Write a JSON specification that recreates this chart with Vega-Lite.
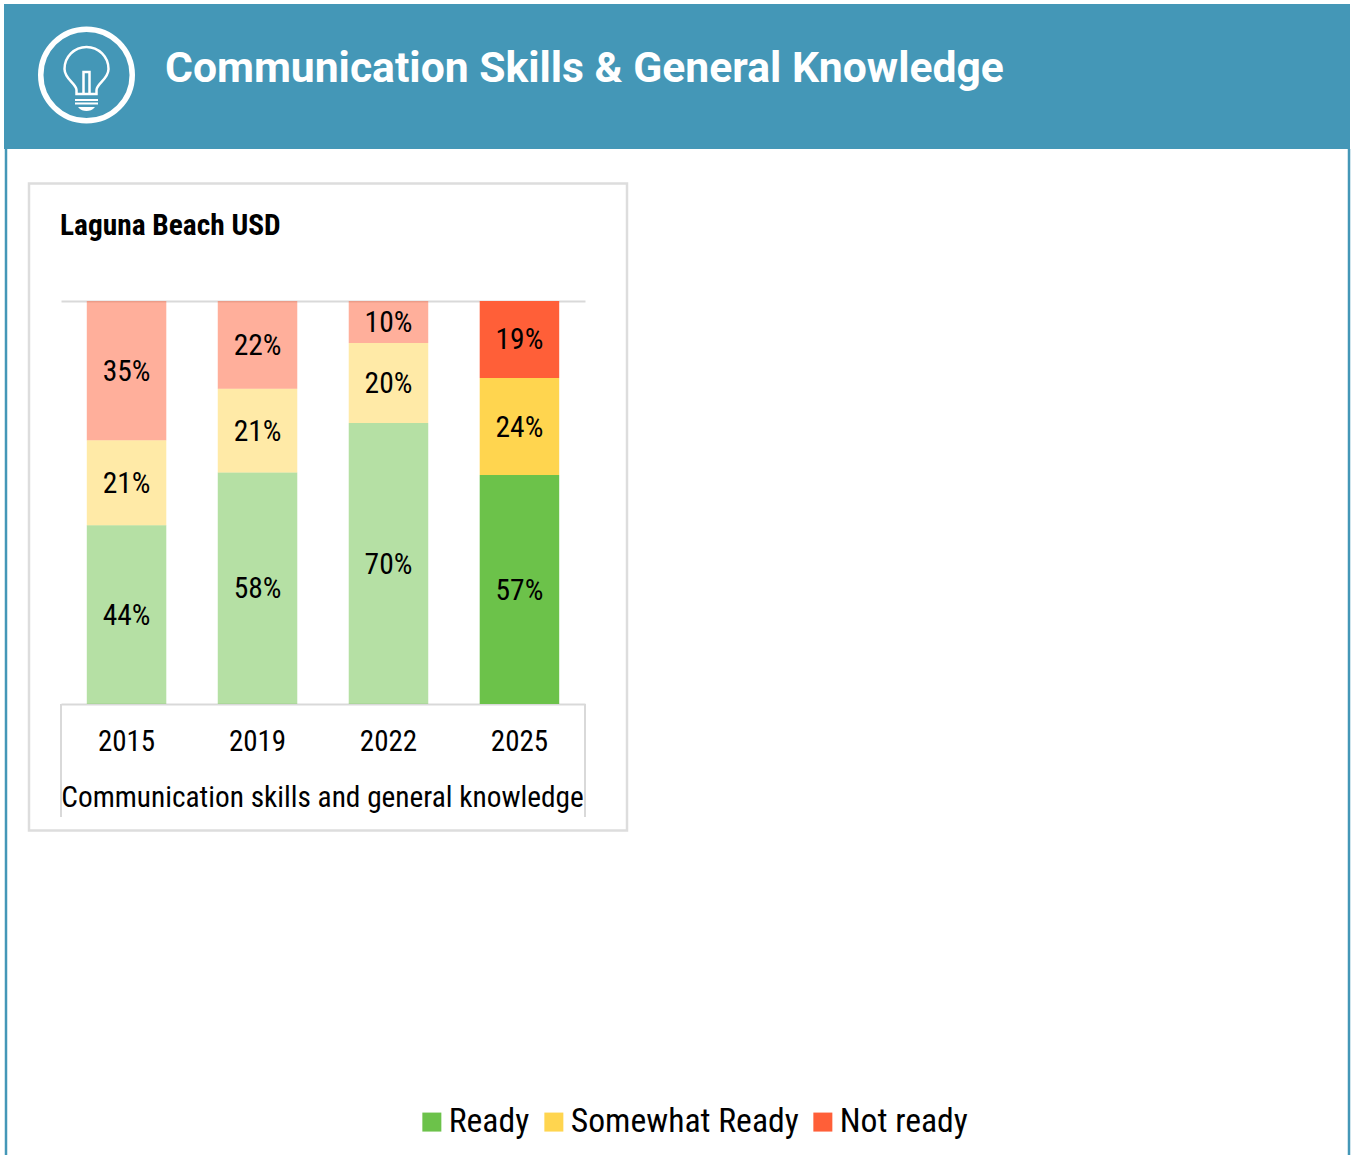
{
"$schema":"https://vega.github.io/schema/vega-lite/v6.json",
"width":524,"height":403,
"autosize":{"type":"none"},
"padding":{"left":61,"top":301,"right":766,"bottom":451},
"background":"white",
"config":{"view":{"stroke":null},"font":"Roboto Condensed, Liberation Sans Narrow, Roboto"},
"datasets":{"one":[{"k":1}],"rows":[
{"year":"2015","status":"Ready","share":0.444,"rank":1},
{"year":"2015","status":"Somewhat Ready","share":0.211,"rank":2},
{"year":"2015","status":"Not ready","share":0.346,"rank":3},
{"year":"2019","status":"Ready","share":0.58,"rank":1},
{"year":"2019","status":"Somewhat Ready","share":0.21,"rank":2},
{"year":"2019","status":"Not ready","share":0.22,"rank":3},
{"year":"2022","status":"Ready","share":0.697,"rank":1},
{"year":"2022","status":"Somewhat Ready","share":0.199,"rank":2},
{"year":"2022","status":"Not ready","share":0.104,"rank":3},
{"year":"2025","status":"Ready","share":0.568,"rank":1},
{"year":"2025","status":"Somewhat Ready","share":0.241,"rank":2},
{"year":"2025","status":"Not ready","share":0.191,"rank":3}
]},
"layer":[
{"data":{"name":"one"},"mark":{"type":"rect","fill":"#4497B7"},"encoding":{"x":{"value":-57},"x2":{"value":1289},"y":{"value":-297},"y2":{"value":-152}}},
{"data":{"name":"one"},"mark":{"type":"rule","stroke":"#4497B7","strokeWidth":2.5},"encoding":{"x":{"value":-55},"y":{"value":-152},"y2":{"value":854}}},
{"data":{"name":"one"},"mark":{"type":"rule","stroke":"#4497B7","strokeWidth":2.5},"encoding":{"x":{"value":1288},"y":{"value":-152},"y2":{"value":854}}},
{"data":{"name":"one"},"mark":{"type":"rect","fill":"white","fillOpacity":0,"stroke":"#DDDDDD","strokeWidth":2.5},"encoding":{"x":{"value":-32},"x2":{"value":566},"y":{"value":-117.5},"y2":{"value":529.5}}},
{"data":{"name":"one"},"mark":{"type":"point","shape":"circle","filled":false,"stroke":"white","strokeWidth":5.5,"opacity":1},"encoding":{"x":{"value":25.5},"y":{"value":-226},"size":{"value":8372}}},
{"data":{"name":"one"},"mark":{"type":"point","filled":false,"stroke":"white","strokeWidth":2.5,"opacity":1,"shape":"M-10,18 L-10,14 C-10,8 -22,3 -22,-7 A22,22 0 1 1 22,-7 C22,3 10,8 10,14 L10,18 Z M-3,18 L-3,-4 L3,-4 L3,18"},"encoding":{"x":{"value":25.5},"y":{"value":-225},"size":{"value":4}}},
{"data":{"name":"one"},"mark":{"type":"point","filled":true,"fill":"white","stroke":null,"opacity":1,"shape":"M-11.5,24 L11.5,24 L11.5,26 L-11.5,26 Z M-11.5,27.5 L11.5,27.5 L11.5,29.5 L-11.5,29.5 Z M-8.5,32 L8.5,32 C6,35 3,36 0,36 C-3,36 -6,35 -8.5,32 Z"},"encoding":{"x":{"value":25.5},"y":{"value":-226},"size":{"value":4}}},
{"data":{"name":"one"},"mark":{"type":"text","text":"Communication Skills & General Knowledge","font":"Roboto","fontWeight":"bold","fontSize":42.65,"fill":"white","align":"left","baseline":"middle"},"encoding":{"x":{"value":104},"y":{"value":-232}}},
{"data":{"name":"one"},"mark":{"type":"text","text":"Laguna Beach USD","fontWeight":"bold","fontSize":29.4,"fill":"black","align":"left","baseline":"middle"},"encoding":{"x":{"value":-1},"y":{"value":-75}}},
{"data":{"name":"one"},"mark":{"type":"rule","stroke":"#D9D9D9","strokeWidth":2},"encoding":{"x":{"value":0},"y":{"value":403},"y2":{"value":516}}},
{"data":{"name":"one"},"mark":{"type":"rule","stroke":"#D9D9D9","strokeWidth":2},"encoding":{"x":{"value":524},"y":{"value":403},"y2":{"value":516}}},
{"data":{"name":"rows"},"mark":{"type":"bar"},"encoding":{
"x":{"field":"year","type":"nominal","scale":{"paddingInner":0.393,"paddingOuter":0.197},"axis":{"title":"Communication skills and general knowledge","titleFontSize":29.35,"titleFontWeight":"normal","titleColor":"black","titlePadding":27,"titleX":261,"labelFontSize":29,"labelColor":"black","labelAngle":0,"labelPadding":23,"ticks":false,"domainColor":"#D9D9D9","domainWidth":2}},
"y":{"field":"share","type":"quantitative","aggregate":"sum","stack":"normalize","scale":{"nice":false},"axis":{"title":null,"labels":false,"ticks":false,"domain":false,"values":[1],"grid":true,"gridColor":"#D9D9D9","gridWidth":2}},
"color":{"field":"status","type":"nominal","scale":{"domain":["Ready","Somewhat Ready","Not ready"],"range":["#6CC24A","#FFD54F","#FF5F38"]},"legend":{"title":null,"orient":"none","direction":"horizontal","legendX":354,"legendY":804,"symbolType":"square","symbolSize":361,"symbolOpacity":1,"symbolStrokeWidth":0,"labelFontSize":33.7,"labelColor":"black","labelLimit":400,"labelOffset":0,"columnPadding":7}},
"order":{"field":"rank","type":"ordinal"},
"opacity":{"condition":{"test":"datum.year === '2025'","value":1},"value":0.5}
}},
{"data":{"name":"rows"},"mark":{"type":"text","fill":"black","fontSize":29.5,"baseline":"middle","dy":1},"encoding":{
"x":{"field":"year","type":"nominal"},
"y":{"field":"share","type":"quantitative","aggregate":"sum","stack":"normalize","bandPosition":0.5},
"detail":{"field":"status"},
"order":{"field":"rank","type":"ordinal"},
"text":{"field":"share","aggregate":"sum","format":".0%"}
}}
]
}
